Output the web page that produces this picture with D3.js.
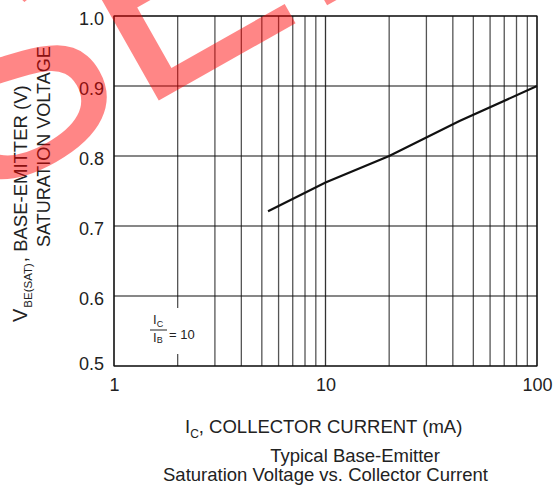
<!DOCTYPE html>
<html><head><meta charset="utf-8">
<script src="https://cdn.jsdelivr.net/npm/d3@7"></script>
<style>
body{margin:0;background:#fff}
svg{display:block}
text{font-family:"Liberation Sans",Arial,Helvetica,sans-serif}
</style>
</head><body>
<svg id="chart" width="554" height="486"></svg>
<script>
// ---- data ----
const xDomain = [1, 100];
const yDomain = [0.5, 1.0];
const xTickValues = [1, 10, 100];
const xTickLabels = ["1", "10", "100"];
const yTickValues = [0.5, 0.6, 0.7, 0.8, 0.9, 1.0];
const yTickLabels = ["0.5", "0.6", "0.7", "0.8", "0.9", "1.0"];
const minorXValues = [2, 3, 4, 5, 6, 7, 8, 9, 20, 30, 40, 50, 60, 70, 80, 90];
const icValues = [5.35, 10, 20, 43, 100];          // collector current (mA)
const vbeValues = [0.721, 0.762, 0.800, 0.850, 0.900]; // V_BE(SAT) (V)
const watermarkText = "SUPERSEDED";

// ---- layout ----
const L = 114, R = 537, T = 16, B = 366;
const svg = d3.select("#chart");
const x = d3.scaleLog().domain(xDomain).range([L, R]);
const y = d3.scaleLinear().domain(yDomain).range([B, T]);

const grid = svg.append("g");
grid.selectAll("line.minor").data(minorXValues).join("line")
  .attr("x1", d => x(d)).attr("x2", d => x(d)).attr("y1", T).attr("y2", B)
  .attr("stroke", "#555").attr("stroke-width", 1.3);
grid.selectAll("line.major").data(xTickValues).join("line")
  .attr("x1", d => x(d)).attr("x2", d => x(d)).attr("y1", T).attr("y2", B)
  .attr("stroke", "#333").attr("stroke-width", 1.3);
grid.selectAll("line.h").data(yTickValues).join("line")
  .attr("x1", L).attr("x2", R).attr("y1", d => y(d)).attr("y2", d => y(d))
  .attr("stroke", "#111").attr("stroke-width", 1.1);

// annotation box
svg.append("rect").attr("x", 141).attr("y", 308).attr("width", 58).attr("height", 46).attr("fill", "#fff");
const ann = svg.append("g").attr("fill", "#222");
ann.append("text").attr("x", 153).attr("y", 324).attr("font-size", 13).text("I")
  .append("tspan").attr("font-size", 9).attr("dy", 3).text("C");
ann.append("line").attr("x1", 150).attr("x2", 167).attr("y1", 330).attr("y2", 330).attr("stroke", "#222").attr("stroke-width", 1);
ann.append("text").attr("x", 153).attr("y", 342).attr("font-size", 13).text("I")
  .append("tspan").attr("font-size", 9).attr("dy", 1).text("B");
ann.append("text").attr("x", 169).attr("y", 339).attr("font-size", 13).text("= 10");

// curve
const pts = icValues.map((v, i) => [v, vbeValues[i]]);
svg.append("path").datum(pts)
  .attr("d", d3.line().x(d => x(d[0])).y(d => y(d[1])))
  .attr("fill", "none").attr("stroke", "#111").attr("stroke-width", 2.2);

// axes (labels only)
const xAxis = d3.axisBottom(x).tickValues(xTickValues).tickFormat((d, i) => xTickLabels[i]).tickSize(0).tickPadding(0);
const gx = svg.append("g").attr("transform", `translate(0,${B})`).call(xAxis);
gx.select(".domain").remove();
gx.selectAll("text").attr("font-size", 18).attr("fill", "#222").attr("dy", null).attr("y", 25)
  .attr("font-family", '"Liberation Sans",Arial,sans-serif');

const yAxis = d3.axisLeft(y).tickValues(yTickValues).tickFormat((d, i) => yTickLabels[i]).tickSize(0).tickPadding(0);
const gy = svg.append("g").attr("transform", `translate(104,0)`).call(yAxis);
gy.select(".domain").remove();
gy.selectAll("text").attr("font-size", 18).attr("fill", "#222")
  .attr("dy", null).attr("y", (d, i) => i === 0 ? 3 : 8)
  .attr("font-family", '"Liberation Sans",Arial,sans-serif');

// axis titles
const xt = svg.append("text").attr("x", 185).attr("y", 433).attr("font-size", 18.5).attr("fill", "#222");
xt.append("tspan").text("I");
xt.append("tspan").attr("font-size", 12).attr("dy", 5).text("C");
xt.append("tspan").attr("dy", -5).text(", COLLECTOR CURRENT (mA)");

const yt1 = svg.append("text").attr("transform", "translate(27,322) rotate(-90)").attr("font-size", 18.5).attr("fill", "#222");
yt1.append("tspan").attr("font-size", 20).text("V");
yt1.append("tspan").attr("font-size", 11.5).attr("dy", 5).attr("dx", 1).text("BE(SAT)");
yt1.append("tspan").attr("dy", -5).attr("dx", 1).text(", BASE-EMITTER (V)");
svg.append("text").attr("transform", "translate(50,247) rotate(-90)").attr("font-size", 18).attr("fill", "#222")
  .text("SATURATION VOLTAGE");

// caption
svg.append("text").attr("x", 355).attr("y", 462).attr("text-anchor", "middle").attr("font-size", 18.5).attr("fill", "#222")
  .text("Typical Base-Emitter");
svg.append("text").attr("x", 325.5).attr("y", 481).attr("text-anchor", "middle").attr("font-size", 18.5).attr("fill", "#222")
  .text("Saturation Voltage vs. Collector Current");

// plot frame
svg.append("rect").attr("x", L).attr("y", T).attr("width", R - L).attr("height", B - T)
  .attr("fill", "none").attr("stroke", "#111").attr("stroke-width", 1.1);

// watermark
const FS = 290;
const wm = svg.append("g").attr("opacity", 0.47);
const wt = wm.append("text").attr("font-size", FS).attr("fill", "#ff0000").attr("x", 0).attr("y", 0).text(watermarkText);
const ex = wt.node().getStartPositionOfChar(6).x + 0.079 * FS;
wm.attr("transform", `translate(158,101) rotate(-29.5) translate(${-ex},0)`);
</script>
</body></html>
